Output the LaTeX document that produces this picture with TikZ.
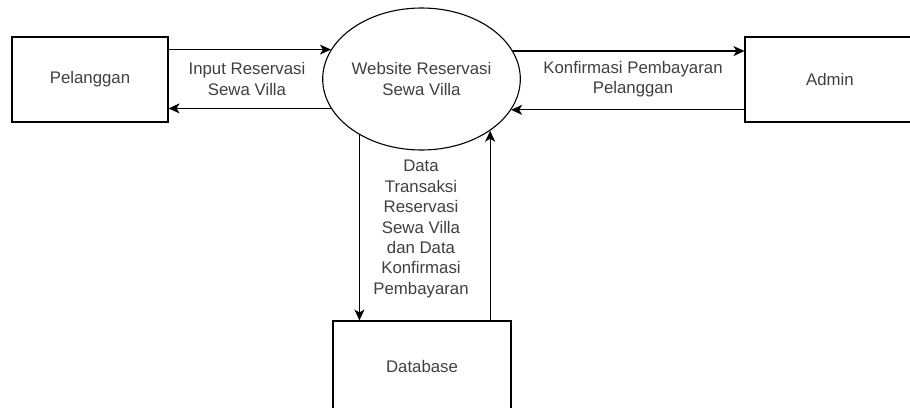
\documentclass[tikz,border=0pt]{standalone}
\usepackage{fontspec}
\setmainfont{Liberation Sans}
\usetikzlibrary{arrows.meta,shapes.geometric}
\begin{document}
\begin{tikzpicture}[x=1pt,y=-1pt,
  every node/.style={font=\fontsize{16.8}{20.4}\selectfont, text=black!75},
  boxnode/.style={draw=black, line width=1.1pt, rectangle, inner sep=0pt},
  procnode/.style={draw=black, line width=1.1pt, ellipse, inner sep=0pt, minimum width=193pt, minimum height=142pt, align=center},
  lbl/.style={align=center, inner sep=0pt},
  flow/.style={draw=black, line width=1.1pt, -{Stealth[length=11pt,width=10pt,inset=3pt]}}
]
\useasboundingbox (0,0) rectangle (910,407);
\clip (0,0) rectangle (910,407);
\fill[white] (0,0) rectangle (910,407);

\node[boxnode, minimum width=156pt, minimum height=85pt] (pel) at (90,79.5) {Pelanggan};
\node[boxnode, minimum width=170pt, minimum height=85pt] (adm) at (830,79.5) {Admin};
\node[boxnode, minimum width=178pt, minimum height=90pt] (db) at (422,366) {Database};
\node[procnode] (web) at (421.5,79) {Website Reservasi\\Sewa Villa};

\node[lbl] (l1) at (247,79) {Input Reservasi\\Sewa Villa};
\node[lbl] (l2) at (633,79) {Konfirmasi Pembayaran\\Pelanggan};
\node[lbl] (l3) at (421,229) {Data\\Transaksi\\Reservasi\\Sewa Villa\\dan Data\\Konfirmasi\\Pembayaran};

\draw[flow] (pel.east |- web.162.4) -- (web.162.4);
\draw[flow] (web.198.2) -- (pel.east |- web.198.2);
\draw[flow] (web.17.6) -- (adm.west |- web.17.6);
\draw[flow] (adm.west |- web.341.8) -- (web.341.8);
\draw[flow] (web.222.4) -- (web.222.4 |- db.north);
\draw[flow] (web.323 |- db.north) -- (web.323);
\end{tikzpicture}
\end{document}
